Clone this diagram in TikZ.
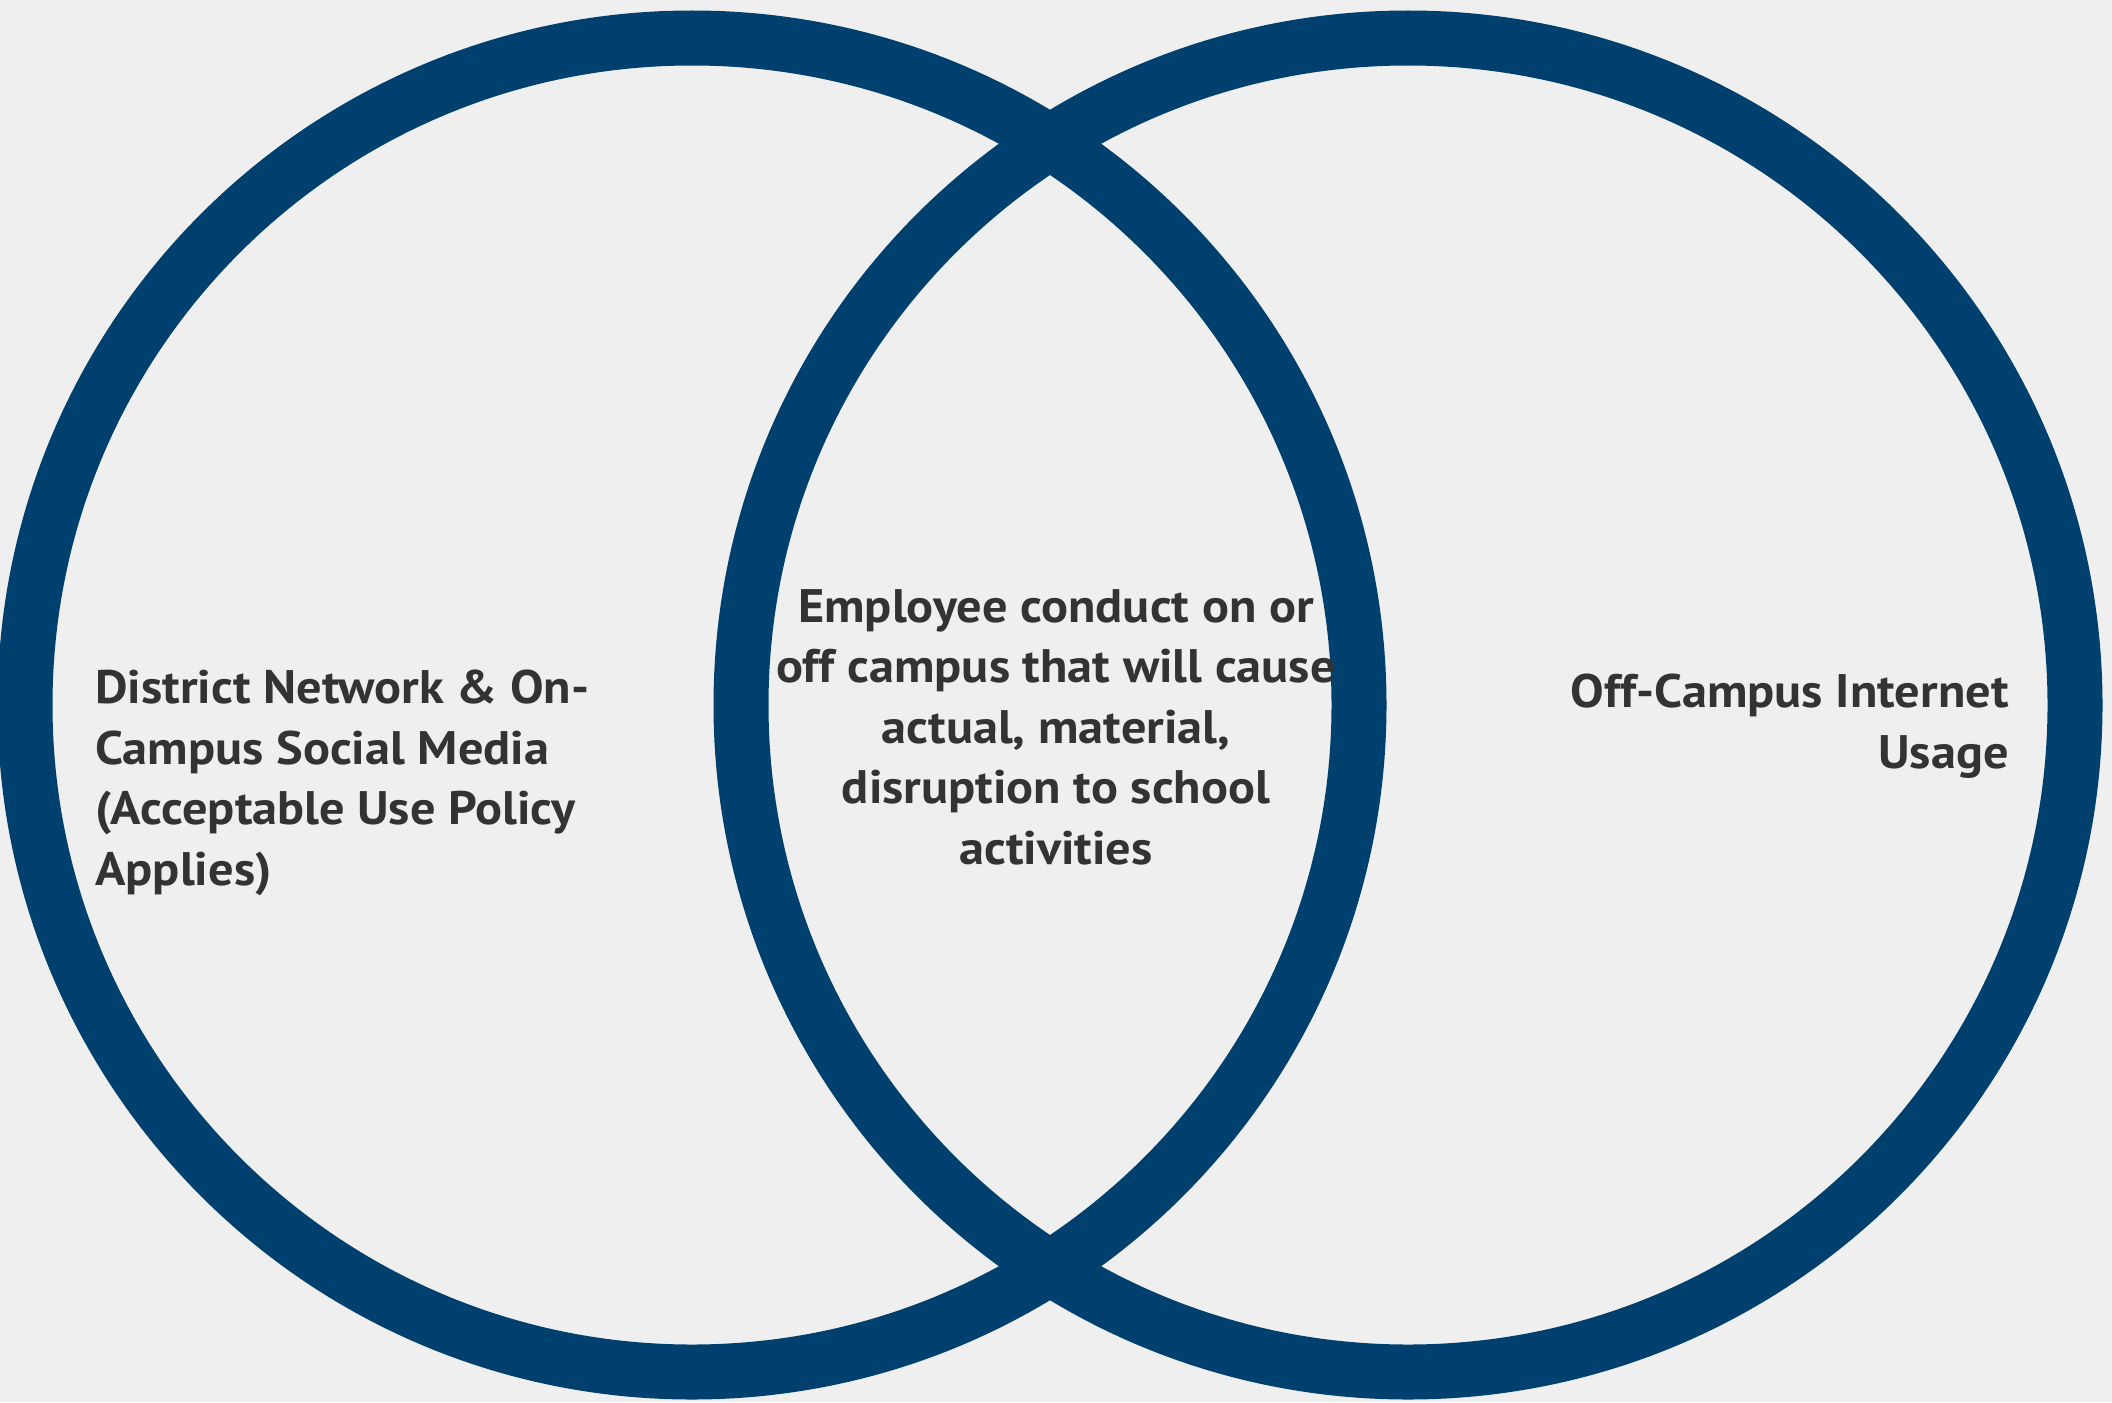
\documentclass[tikz,border=0pt]{standalone}
\usepackage{fontspec}
\setmainfont{PT Sans}[FakeStretch=1.07]
\definecolor{ring}{HTML}{00406F}
\definecolor{bgc}{HTML}{EFEFEF}
\definecolor{txt}{HTML}{333333}
\begin{document}
\begin{tikzpicture}[x=0.5pt,y=-0.5pt,
  ringline/.style={draw=ring,line width=27.5pt},
  vlabel/.style={font=\bfseries\fontsize{23.5pt}{30.25pt}\selectfont,text=txt,inner sep=0pt}]
\fill[bgc] (0,0) rectangle (2112,1402);
\useasboundingbox (0,0) rectangle (2112,1402);
\draw[ringline] (692,705) circle[radius=667];
\draw[ringline] (1408,705) circle[radius=667];
\node[vlabel,anchor=base west,align=left] (leftlabel) at (95,885)
  {District Network \& On-\\Campus Social Media\\(Acceptable Use Policy\\Applies)};
\node[vlabel,anchor=base,align=center] (midlabel) at (1056,864)
  {Employee conduct on or\\off campus that will cause\\actual, material,\\disruption to school\\activities};
\node[vlabel,anchor=base east,align=right] (rightlabel) at (2009,768)
  {Off-Campus Internet\\Usage};
\end{tikzpicture}
\end{document}
